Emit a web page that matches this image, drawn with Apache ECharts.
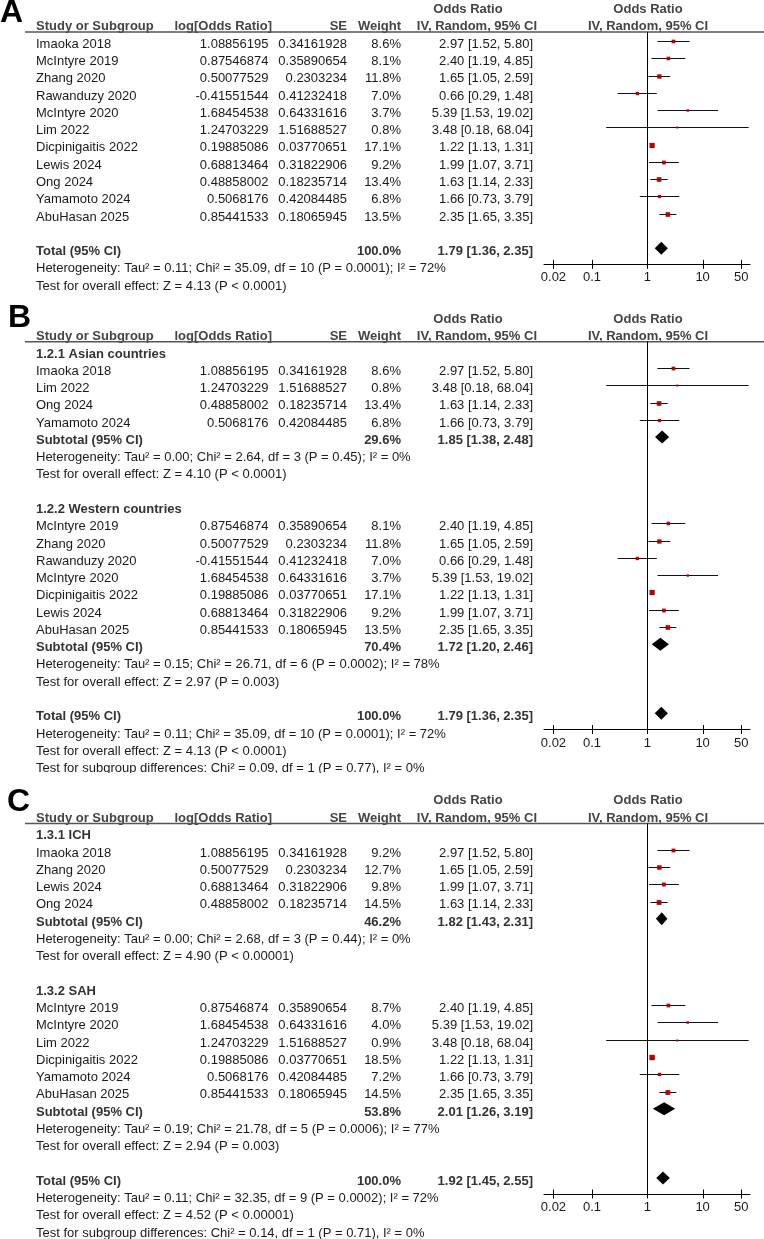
<!DOCTYPE html>
<html><head><meta charset="utf-8">
<script src="https://cdn.jsdelivr.net/npm/echarts@6/dist/echarts.min.js"></script>
<style>html,body{margin:0;padding:0;background:#fff}#c{width:764px;height:1239px}</style>
</head><body><div id="c"></div><script>
// ---------- data ----------
const studyNames = ['Imaoka 2018','McIntyre 2019','Zhang 2020','Rawanduzy 2020','McIntyre 2020','Lim 2022','Dicpinigaitis 2022','Lewis 2024','Ong 2024','Yamamoto 2024','AbuHasan 2025'];
const logOddsText = ['1.08856195','0.87546874','0.50077529','-0.41551544','1.68454538','1.24703229','0.19885086','0.68813464','0.48858002','0.5068176','0.85441533'];
const seText = ['0.34161928','0.35890654','0.2303234','0.41232418','0.64331616','1.51688527','0.03770651','0.31822906','0.18235714','0.42084485','0.18065945'];
const oddsRatio = [2.97,2.40,1.65,0.66,5.39,3.48,1.22,1.99,1.63,1.66,2.35];
const ciLower = [1.52,1.19,1.05,0.29,1.53,0.18,1.13,1.07,1.14,0.73,1.65];
const ciUpper = [5.80,4.85,2.59,1.48,19.02,68.04,1.31,3.71,2.33,3.79,3.35];
const weightAll = [8.6,8.1,11.8,7.0,3.7,0.8,17.1,9.2,13.4,6.8,13.5];
const allIdx = [0,1,2,3,4,5,6,7,8,9,10];
const asianIdx = [0,5,8,9];
const westernIdx = [1,2,3,4,6,7,10];
const ichIdx = [0,2,7,8];
const ichWeight = [9.2,12.7,9.8,14.5];
const sahIdx = [1,4,5,6,9,10];
const sahWeight = [8.7,4.0,0.9,18.5,7.2,14.5];
// pooled estimates: A total, B asian, B western, B total, C ICH, C SAH, C total
const pooledOR = [1.79,1.85,1.72,1.79,1.82,2.01,1.92];
const pooledLo = [1.36,1.38,1.20,1.36,1.43,1.26,1.45];
const pooledHi = [2.35,2.48,2.46,2.35,2.31,3.19,2.55];
const pooledWeight = [100.0,29.6,70.4,100.0,46.2,53.8,100.0];
const hetText = [
 'Heterogeneity: Tau² = 0.11; Chi² = 35.09, df = 10 (P = 0.0001); I² = 72%',
 'Heterogeneity: Tau² = 0.00; Chi² = 2.64, df = 3 (P = 0.45); I² = 0%',
 'Heterogeneity: Tau² = 0.15; Chi² = 26.71, df = 6 (P = 0.0002); I² = 78%',
 'Heterogeneity: Tau² = 0.11; Chi² = 35.09, df = 10 (P = 0.0001); I² = 72%',
 'Heterogeneity: Tau² = 0.00; Chi² = 2.68, df = 3 (P = 0.44); I² = 0%',
 'Heterogeneity: Tau² = 0.19; Chi² = 21.78, df = 5 (P = 0.0006); I² = 77%',
 'Heterogeneity: Tau² = 0.11; Chi² = 32.35, df = 9 (P = 0.0002); I² = 72%'];
const effectText = [
 'Test for overall effect: Z = 4.13 (P < 0.0001)',
 'Test for overall effect: Z = 4.10 (P < 0.0001)',
 'Test for overall effect: Z = 2.97 (P = 0.003)',
 'Test for overall effect: Z = 4.13 (P < 0.0001)',
 'Test for overall effect: Z = 4.90 (P < 0.00001)',
 'Test for overall effect: Z = 2.94 (P = 0.003)',
 'Test for overall effect: Z = 4.52 (P < 0.00001)'];
const subgroupDiffText = [
 'Test for subgroup differences: Chi² = 0.09, df = 1 (P = 0.77), I² = 0%',
 'Test for subgroup differences: Chi² = 0.14, df = 1 (P = 0.71), I² = 0%'];
const groupLabels = ['1.2.1 Asian countries','1.2.2 Western countries','1.3.1 ICH','1.3.2 SAH'];
const tickValues = [0.02,0.1,1,10,50];
const tickLabels = ['0.02','0.1','1','10','50'];

// ---------- row models ----------
function studyRows(idx, w){ return idx.map((i,j)=>({kind:'study', i, w: w ? w[j] : weightAll[i]})); }
function pooledRows(p, label){ return [{kind:'pooled', p, label},{kind:'text', text:hetText[p]},{kind:'text', text:effectText[p]}]; }
const rowsA = [...studyRows(allIdx), {kind:'blank'}, ...pooledRows(0,'Total (95% CI)')];
const rowsB = [{kind:'group', text:groupLabels[0]}, ...studyRows(asianIdx), ...pooledRows(1,'Subtotal (95% CI)'), {kind:'blank'},
  {kind:'group', text:groupLabels[1]}, ...studyRows(westernIdx), ...pooledRows(2,'Subtotal (95% CI)'), {kind:'blank'},
  ...pooledRows(3,'Total (95% CI)'), {kind:'text', text:subgroupDiffText[0]}];
const rowsC = [{kind:'group', text:groupLabels[2]}, ...studyRows(ichIdx, ichWeight), ...pooledRows(4,'Subtotal (95% CI)'), {kind:'blank'},
  {kind:'group', text:groupLabels[3]}, ...studyRows(sahIdx, sahWeight), ...pooledRows(5,'Subtotal (95% CI)'), {kind:'blank'},
  ...pooledRows(6,'Total (95% CI)'), {kind:'text', text:subgroupDiffText[1]}];

// ---------- layout ----------
const FF = '"Liberation Sans", Arial, Helvetica, sans-serif';
const pitch = 17.27, markerShift = 3.3;
const panels = [
  {letter:'A', U:32, lx:0, ly:13, rows:rowsA},
  {letter:'B', U:341.7, lx:8, ly:318.5, rows:rowsB},
  {letter:'C', U:823.5, lx:7, ly:802.5, rows:rowsC}
];
const col = {name:36, logOR:268.5, logORHead:272, se:347, w:401, ci:533, ciHead:537, orHead:468, plot:648};
const bodyCol = '#1a1a1a', boldCol = '#333', headCol = '#444';

const graphics = [], grids = [], xAxes = [], yAxes = [], series = [];
function txt(x, y, s, align, bold, color, size){
  graphics.push({type:'text', x:x, y:y, silent:true, style:{text:s, fill:color||bodyCol,
    font:(bold?'bold ':'')+(size||13)+'px '+FF, align:align, textAlign:align, verticalAlign:'middle', textVerticalAlign:'middle'}});
}
function ciStr(o,l,h){ return o.toFixed(2)+' ['+l.toFixed(2)+', '+h.toFixed(2)+']'; }

panels.forEach((p,k)=>{
  const row0 = p.U + 12.3;
  const rowY = i => row0 + i*pitch;
  let last = 0; p.rows.forEach((r,i)=>{ if(r.kind==='pooled') last = i; });
  const axisY = rowY(last) + 12.8;
  const yMin = -(row0 - markerShift - p.U)/pitch;
  const yMax = yMin + (axisY - p.U)/pitch;
  grids.push({left:544, width:206, top:p.U, height:axisY - p.U, containLabel:false});
  xAxes.push({type:'log', logBase:10, gridIndex:k, min:0.0135, max:72, position:'bottom',
    axisLine:{show:true, onZero:false, lineStyle:{color:'#000', width:1}}, axisTick:{show:false}, axisLabel:{show:false}, splitLine:{show:false}});
  yAxes.push({type:'value', gridIndex:k, inverse:true, min:yMin, max:yMax, show:false});

  // letter + headers
  txt(p.lx, p.ly, p.letter, 'left', true, '#000', 32);
  txt(col.orHead, p.U-22.7, 'Odds Ratio', 'center', true, headCol);
  txt(col.plot, p.U-22.7, 'Odds Ratio', 'center', true, headCol);
  const h2 = p.U-5.3;
  txt(col.name, h2, 'Study or Subgroup', 'left', true, headCol);
  txt(col.logORHead, h2, 'log[Odds Ratio]', 'right', true, headCol);
  txt(col.se, h2, 'SE', 'right', true, headCol);
  txt(col.w, h2, 'Weight', 'right', true, headCol);
  txt(col.ciHead, h2, 'IV, Random, 95% CI', 'right', true, headCol);
  txt(col.plot, h2, 'IV, Random, 95% CI', 'center', true, headCol);
  graphics.push({type:'line', silent:true, shape:{x1:25, y1:p.U, x2:764, y2:p.U}, style:{stroke:'#555', lineWidth:1.4}});

  const studyData = [], pooledData = [];
  p.rows.forEach((r,i)=>{
    const y = rowY(i);
    if (r.kind==='study'){
      txt(col.name, y, studyNames[r.i], 'left');
      txt(col.logOR, y, logOddsText[r.i], 'right');
      txt(col.se, y, seText[r.i], 'right');
      txt(col.w, y, r.w.toFixed(1)+'%', 'right');
      txt(col.ci, y, ciStr(oddsRatio[r.i], ciLower[r.i], ciUpper[r.i]), 'right');
      studyData.push([oddsRatio[r.i], ciLower[r.i], ciUpper[r.i], i, r.w]);
    } else if (r.kind==='group'){
      txt(col.name, y, r.text, 'left', true, boldCol);
    } else if (r.kind==='pooled'){
      txt(col.name, y, r.label, 'left', true, boldCol);
      txt(col.w, y, pooledWeight[r.p].toFixed(1)+'%', 'right', true, boldCol);
      txt(col.ci, y, ciStr(pooledOR[r.p], pooledLo[r.p], pooledHi[r.p]), 'right', true, boldCol);
      pooledData.push([pooledOR[r.p], pooledLo[r.p], pooledHi[r.p], i]);
    } else if (r.kind==='text'){
      txt(col.name, y, r.text, 'left');
    }
  });

  series.push({type:'custom', name:'studies'+k, xAxisIndex:k, yAxisIndex:k, clip:false, silent:true,
    encode:{x:[0,1,2], y:3}, data:studyData,
    renderItem:(params, api)=>{
      const c = api.coord([api.value(0), api.value(3)]);
      const l = api.coord([api.value(1), api.value(3)]);
      const h = api.coord([api.value(2), api.value(3)]);
      const s = Math.max(2, 1.25*Math.sqrt(api.value(4)));
      const yy = Math.round(c[1]) + 0.5;
      return {type:'group', children:[
        {type:'line', shape:{x1:l[0], y1:yy, x2:h[0], y2:yy}, style:{stroke:'#111', lineWidth:1}},
        {type:'rect', shape:{x:c[0]-s/2, y:yy-s/2, width:s, height:s}, style:{fill:'#b30000'}}
      ]};
    },
    markLine:{silent:true, symbol:['none','none'], label:{show:false}, lineStyle:{color:'#000', width:1, type:'solid'},
      data:[{xAxis:1}], animation:false}
  });
  series.push({type:'custom', name:'pooled'+k, xAxisIndex:k, yAxisIndex:k, clip:false, silent:true,
    encode:{x:[0,1,2], y:3}, data:pooledData,
    renderItem:(params, api)=>{
      const c = api.coord([api.value(0), api.value(3)]);
      const l = api.coord([api.value(1), api.value(3)]);
      const h = api.coord([api.value(2), api.value(3)]);
      const hh = 6.5;
      return {type:'polygon', shape:{points:[[l[0],c[1]],[c[0],c[1]-hh],[h[0],c[1]],[c[0],c[1]+hh]]}, style:{fill:'#000'}};
    }
  });
  series.push({type:'custom', name:'ticks'+k, xAxisIndex:k, yAxisIndex:k, clip:false, silent:true,
    encode:{x:0, y:1}, data:tickValues.map((v,j)=>[v, yMax, j]),
    renderItem:(params, api)=>{
      const c = api.coord([api.value(0), api.value(1)]);
      const x = Math.round(c[0]) + 0.5;
      return {type:'group', children:[
        {type:'line', shape:{x1:x, y1:c[1]-4.5, x2:x, y2:c[1]+4.5}, style:{stroke:'#000', lineWidth:1}},
        {type:'text', x:c[0], y:c[1]+13.5, style:{text:tickLabels[api.value(2)], fill:bodyCol, font:'13px '+FF,
          align:'center', textAlign:'center', verticalAlign:'middle', textVerticalAlign:'middle'}}
      ]};
    }
  });
});
// panel C artwork overlaps the bottom of panel B's last line
graphics.push({type:'rect', silent:true, z:100, shape:{x:0, y:773, width:764, height:16}, style:{fill:'#fff'}});

const chart = echarts.init(document.getElementById('c'), null, {renderer:'canvas'});
chart.setOption({
  animation:false, backgroundColor:'#fff',
  grid:grids, xAxis:xAxes, yAxis:yAxes, series:series, graphic:{elements:graphics}
});
</script></body></html>
